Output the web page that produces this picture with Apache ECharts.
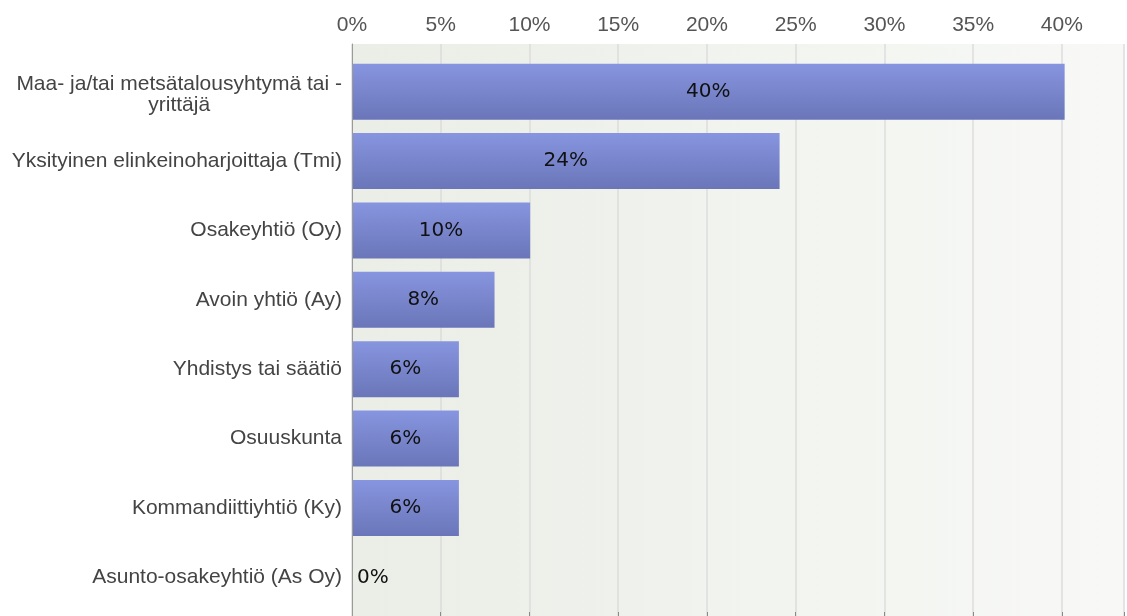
<!DOCTYPE html>
<html>
<head>
<meta charset="utf-8">
<script src="https://cdn.jsdelivr.net/npm/echarts@6/dist/echarts.min.js"></script>
<style>
html,body{margin:0;padding:0;background:#fff;}
#chart{width:1127px;height:616px;}
</style>
</head>
<body>
<div id="chart"></div>
<script>
const categories = [
  'Maa- ja/tai metsätalousyhtymä tai -\nyrittäjä',
  'Yksityinen elinkeinoharjoittaja (Tmi)',
  'Osakeyhtiö (Oy)',
  'Avoin yhtiö (Ay)',
  'Yhdistys tai säätiö',
  'Osuuskunta',
  'Kommandiittiyhtiö (Ky)',
  'Asunto-osakeyhtiö (As Oy)'
];
const values = [40, 24, 10, 8, 6, 6, 6, 0];
const tickValues = [0, 5, 10, 15, 20, 25, 30, 35, 40];
const axisMax = 43.5;

const chart = echarts.init(document.getElementById('chart'));
const labelFont = 'Liberation Sans, Arial, sans-serif';

chart.setOption({
  animation: false,
  grid: [
    {
      left: 352, right: 0, top: 44, bottom: 0,
      show: true, borderWidth: 0, z: 0,
      backgroundColor: new echarts.graphic.LinearGradient(0, 0, 1, 0, [
        { offset: 0, color: '#eaeee6' },
        { offset: 1, color: '#f8f9f7' }
      ])
    },
    { left: 352, right: 0, top: 57, bottom: 4 }
  ],
  xAxis: [
    {
      gridIndex: 0, type: 'value', position: 'top', z: 1,
      min: 0, max: axisMax, interval: 5,
      axisLine: { show: true, lineStyle: { color: '#8a8a8a', width: 1 } },
      axisTick: { show: true, length: 4, lineStyle: { color: '#8a8a8a' } },
      axisLabel: {
        fontFamily: labelFont, fontSize: 21, color: '#555', margin: 8,
        formatter: v => tickValues.indexOf(v) >= 0 ? v + '%' : ''
      },
      splitLine: { show: true, lineStyle: { color: '#dcdcdc', width: 1.5 } }
    },
    {
      gridIndex: 1, type: 'value', min: 0, max: axisMax, show: false,
      axisLine: { show: false }, axisTick: { show: false },
      axisLabel: { show: false }, splitLine: { show: false }
    }
  ],
  yAxis: [
    {
      gridIndex: 0, type: 'value', min: 0, max: 1, z: 12,
      axisLine: { show: true, lineStyle: { color: '#9a9a9a' } },
      axisTick: { show: false }, axisLabel: { show: false }, splitLine: { show: false }
    },
    {
      gridIndex: 1, type: 'category', data: categories, inverse: true,
      axisLine: { show: false }, axisTick: { show: false }, splitLine: { show: false },
      axisLabel: {
        fontFamily: labelFont, fontSize: 21, color: '#444', margin: 10, lineHeight: 21,
        formatter: v => v.indexOf('\n') >= 0 ? v.split('\n').map(s => '{c|' + s + '}').join('\n') : v,
        rich: { c: { align: 'center', fontFamily: labelFont, fontSize: 21, color: '#444', lineHeight: 21, padding: [6, 0, 0, 0] } }
      }
    }
  ],
  series: [{
    type: 'bar', xAxisIndex: 1, yAxisIndex: 1, z: 10,
    barWidth: 56,
    data: values.map(v => v === 0 ? { value: v, label: { position: 'insideLeft', distance: 5 } } : v),
    itemStyle: {
      color: new echarts.graphic.LinearGradient(0, 0, 0, 1, [
        { offset: 0, color: '#8795e0' },
        { offset: 1, color: '#6a76b8' }
      ])
    },
    label: {
      show: true, position: 'inside', formatter: '{c}%',
      fontFamily: 'DejaVu Sans, sans-serif', fontSize: 20, color: '#111'
    }
  }]
});
</script>
</body>
</html>
